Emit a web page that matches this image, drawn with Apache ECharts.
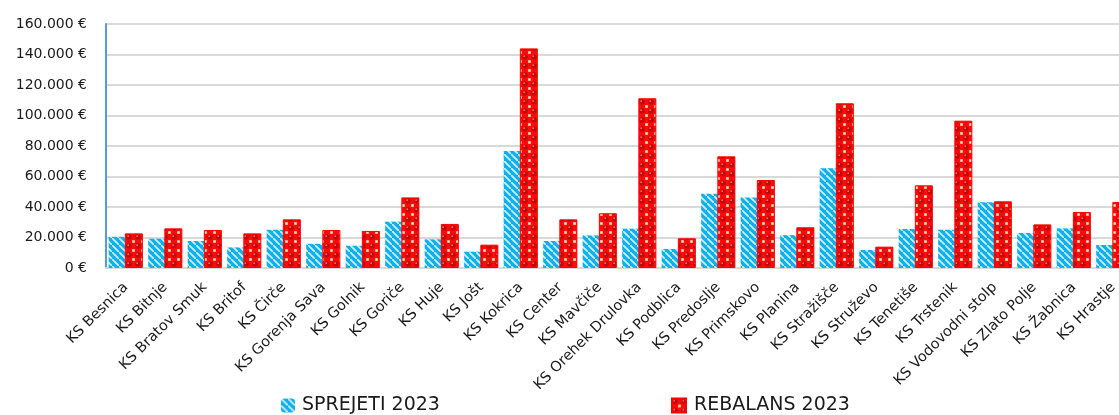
<!DOCTYPE html>
<html>
<head>
<meta charset="utf-8">
<script src="https://cdn.jsdelivr.net/npm/echarts@6/dist/echarts.min.js"></script>
<style>
  html, body { margin: 0; padding: 0; background: #fff; overflow: hidden; width: 1119px; height: 415px; }
  #chart { width: 1150px; height: 415px; }
</style>
</head>
<body>
<div id="chart"></div>
<script>
const categories = ['KS Besnica', 'KS Bitnje', 'KS Bratov Smuk', 'KS Britof', 'KS Čirče', 'KS Gorenja Sava', 'KS Golnik', 'KS Goriče', 'KS Huje', 'KS Jošt', 'KS Kokrica', 'KS Center', 'KS Mavčiče', 'KS Orehek Drulovka', 'KS Podblica', 'KS Predoslje', 'KS Primskovo', 'KS Planina', 'KS Stražišče', 'KS Struževo', 'KS Tenetiše', 'KS Trstenik', 'KS Vodovodni stolp', 'KS Zlato Polje', 'KS Žabnica', 'KS Hrastje'];
const sprejeti2023 = [20500, 19200, 17700, 13500, 25100, 15900, 14600, 30400, 18800, 10700, 76700, 17700, 21400, 25800, 12500, 48700, 46300, 21600, 65400, 11800, 25600, 25100, 43100, 23000, 26000, 15100];
const rebalans2023 = [22700, 26000, 24900, 22700, 31900, 24900, 24300, 46300, 28900, 15300, 144000, 31900, 35900, 111300, 19500, 73200, 57700, 26700, 108000, 14000, 54200, 96600, 43700, 28600, 36700, 43300];
const seriesNames = ['SPREJETI 2023', 'REBALANS 2023'];
const yTicks = { min: 0, max: 160000, interval: 20000 };

function bluePattern() {
  const c = document.createElement('canvas');
  c.width = 7; c.height = 7;
  const g = c.getContext('2d');
  g.fillStyle = '#0FB0EE';
  g.fillRect(0, 0, 7, 7);
  g.strokeStyle = '#CFF0FC';
  g.lineWidth = 1.7;
  g.beginPath();
  g.moveTo(-1, -1); g.lineTo(8, 8);
  g.moveTo(-8, 0); g.lineTo(1, 9);
  g.moveTo(0, -8); g.lineTo(9, 1);
  g.stroke();
  return c;
}
function redPattern() {
  const c = document.createElement('canvas');
  c.width = 9; c.height = 9;
  const g = c.getContext('2d');
  g.fillStyle = '#FF0A0A';
  g.fillRect(0, 0, 9, 9);
  g.fillStyle = '#C20A0A';
  g.beginPath(); g.arc(3, 3, 2.8, 0, Math.PI * 2); g.fill();
  g.fillStyle = '#F47070';
  g.beginPath(); g.arc(2.2, 2.2, 0.9, 0, Math.PI * 2); g.fill();
  g.fillStyle = '#F8EDC4';
  g.fillRect(6.2, 6.2, 2.6, 2.6);
  return c;
}

const chart = echarts.init(document.getElementById('chart'), null, { renderer: 'canvas' });
const fontFamily = '"DejaVu Sans", "Open Sans", sans-serif';
const bluePat = { image: bluePattern(), repeat: 'repeat' };
const redPat = { image: redPattern(), repeat: 'repeat' };

function fmt(v) {
  return String(v).replace(/\B(?=(\d{3})+(?!\d))/g, '.') + ' €';
}

chart.setOption({
  animation: false,
  backgroundColor: '#ffffff',
  grid: { left: 106, top: 24, width: 1027, height: 244, containLabel: false },
  legend: [
    {
      data: [seriesNames[0]], left: 281, top: 396, padding: 0, itemWidth: 14, itemHeight: 14, itemGap: 0,
      icon: 'roundRect',
      textStyle: { fontFamily: fontFamily, fontSize: 19, color: '#1a1a1a', padding: [0, 0, 0, 2] }
    },
    {
      data: [seriesNames[1]], left: 671, top: 396, padding: 0, itemWidth: 14, itemHeight: 14, itemGap: 0,
      icon: 'rect',
      textStyle: { fontFamily: fontFamily, fontSize: 19, color: '#1a1a1a', padding: [0, 0, 0, 3] }
    }
  ],
  xAxis: {
    type: 'category',
    data: categories,
    axisLine: { show: true, lineStyle: { color: '#D9D9D9', width: 2 } },
    axisTick: { show: false },
    axisLabel: {
      interval: 0, rotate: 45, margin: 17,
      fontFamily: fontFamily, fontSize: 14.5, color: '#1a1a1a'
    }
  },
  yAxis: {
    type: 'value',
    min: yTicks.min, max: yTicks.max, interval: yTicks.interval,
    axisLine: { show: true, lineStyle: { color: '#5B9BD5', width: 2 } },
    axisTick: { show: false },
    splitLine: { show: true, lineStyle: { color: '#D9D9D9', width: 2 } },
    axisLabel: {
      margin: 19, fontFamily: fontFamily, fontSize: 14, color: '#1a1a1a',
      formatter: fmt
    }
  },
  series: [
    {
      name: seriesNames[0], type: 'bar', data: sprejeti2023,
      barWidth: 18, barGap: '-10%',
      itemStyle: { color: bluePat }
    },
    {
      name: seriesNames[1], type: 'bar', data: rebalans2023,
      barWidth: 18,
      itemStyle: { color: redPat, borderColor: '#FF0000', borderWidth: 1 }
    }
  ]
});
</script>
</body>
</html>
